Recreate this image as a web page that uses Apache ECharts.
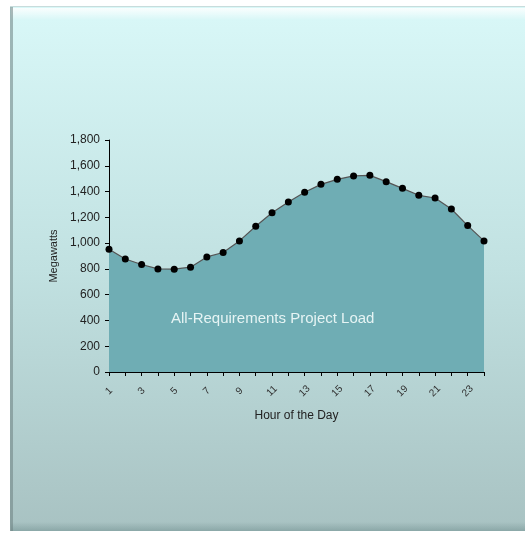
<!DOCTYPE html>
<html>
<head>
<meta charset="utf-8">
<script src="https://cdn.jsdelivr.net/npm/echarts@6/dist/echarts.min.js"></script>
<style>
  html, body { margin: 0; padding: 0; background: #ffffff; }
  #chart { width: 525px; height: 534px; }
</style>
</head>
<body>
<div id="chart"></div>
<script>
// Hourly load profile for the project
const hours = ['1','2','3','4','5','6','7','8','9','10','11','12','13','14','15','16','17','18','19','20','21','22','23','24'];
const loadMW = [953, 877, 834, 800, 798, 813, 893, 927, 1017, 1131, 1236, 1319, 1394, 1456, 1495, 1521, 1526, 1477, 1425, 1371, 1350, 1265, 1136, 1017];
const yTicks = { min: 0, max: 1800, step: 200 };
const seriesLabel = 'All-Requirements Project Load';

const chart = echarts.init(document.getElementById('chart'), null, { renderer: 'canvas' });

const fontFamily = 'Arial, "Liberation Sans", sans-serif';

chart.setOption({
  animation: false,
  backgroundColor: '#ffffff',
  graphic: [
    // panel with vertical gradient
    {
      type: 'rect', z: -10, silent: true,
      shape: { x: 10, y: 7, width: 515, height: 524 },
      style: {
        fill: new echarts.graphic.LinearGradient(0, 0, 0, 1, [
          { offset: 0, color: '#d9f8f8' },
          { offset: 0.5, color: '#c1e1e1' },
          { offset: 1, color: '#a8c2c2' }
        ])
      }
    },
    // top bevel highlight
    {
      type: 'rect', z: -9, silent: true,
      shape: { x: 11, y: 8, width: 514, height: 12 },
      style: {
        fill: new echarts.graphic.LinearGradient(0, 0, 0, 1, [
          { offset: 0, color: 'rgba(255,255,255,0.85)' },
          { offset: 1, color: 'rgba(255,255,255,0)' }
        ])
      }
    },
    // bottom bevel shade
    {
      type: 'rect', z: -9, silent: true,
      shape: { x: 11, y: 522, width: 514, height: 9 },
      style: {
        fill: new echarts.graphic.LinearGradient(0, 0, 0, 1, [
          { offset: 0, color: 'rgba(120,150,150,0)' },
          { offset: 1, color: 'rgba(120,150,150,0.6)' }
        ])
      }
    },
    // left bevel shade
    {
      type: 'rect', z: -9, silent: true,
      shape: { x: 10, y: 7, width: 3, height: 524 },
      style: { fill: 'rgba(110,130,130,0.55)' }
    },
    // top edge line
    {
      type: 'rect', z: -9, silent: true,
      shape: { x: 10, y: 6, width: 515, height: 1 },
      style: { fill: '#c8dcdc' }
    },
    // series caption inside the area
    {
      type: 'text', z: 10, silent: true,
      left: 171, top: 311,
      style: {
        text: seriesLabel,
        fill: '#e6f4f4',
        font: '15px ' + fontFamily
      }
    }
  ],
  grid: { left: 109, right: 41, top: 140, bottom: 162, containLabel: false },
  xAxis: {
    type: 'category',
    data: hours,
    boundaryGap: false,
    name: 'Hour of the Day',
    nameLocation: 'middle',
    nameGap: 38,
    nameTextStyle: { color: '#222', fontSize: 12, fontFamily: fontFamily },
    axisLine: { lineStyle: { color: '#000', width: 1 } },
    axisTick: { show: true, interval: 0, length: 4, lineStyle: { color: '#000' } },
    axisLabel: {
      interval: 1, rotate: 45, color: '#333', fontSize: 10,
      fontFamily: fontFamily, margin: 19,
      align: 'center', verticalAlign: 'middle'
    },
    splitLine: { show: false }
  },
  yAxis: {
    type: 'value',
    min: yTicks.min, max: yTicks.max, interval: yTicks.step,
    name: 'Megawatts',
    nameLocation: 'middle',
    nameGap: 50,
    nameRotate: 90,
    nameTextStyle: { color: '#222', fontSize: 11, fontFamily: fontFamily },
    axisLine: { show: true, lineStyle: { color: '#000', width: 1 } },
    axisTick: { show: true, length: 4, lineStyle: { color: '#000' } },
    axisLabel: {
      color: '#222', fontSize: 12, fontFamily: fontFamily, margin: 9,
      formatter: v => v.toLocaleString('en-US')
    },
    splitLine: { show: false }
  },
  series: [{
    name: seriesLabel,
    type: 'line',
    data: loadMW,
    symbol: 'circle',
    symbolSize: 7,
    itemStyle: { color: '#000' },
    lineStyle: { color: '#555', width: 1.2 },
    areaStyle: { color: '#6fadb4', opacity: 1 },
    z: 2
  }]
});
</script>
</body>
</html>
